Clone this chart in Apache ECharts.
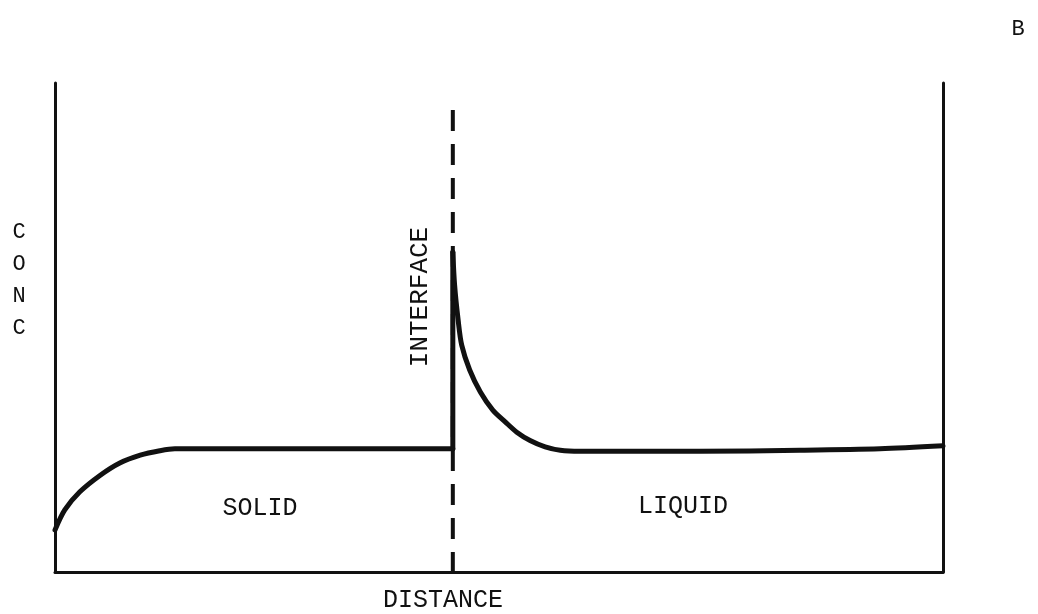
<!DOCTYPE html>
<html>
<head>
<meta charset="utf-8">
<script src="https://cdn.jsdelivr.net/npm/echarts@6/dist/echarts.min.js"></script>
<style>
html,body{margin:0;padding:0;background:#fff;}
#chart{width:1038px;height:614px;}
</style>
</head>
<body>
<div id="chart"></div>
<script>
// Concentration profile (distance 0-100, conc 0-100)
const solidCurve = [
  [0, 8.6], [1.1, 12.7], [2.8, 16.4], [5.1, 19.8], [7.3, 22.3],
  [9.6, 23.9], [11.8, 24.8], [13.5, 25.2], [20, 25.2], [44.8, 25.2]
];
const interfaceJump = [[44.8, 25.2], [44.8, 65.4]];
const liquidCurve = [
  [44.8, 65.4], [45.0, 58.7], [45.4, 51.5], [45.8, 46.4], [46.7, 41.3],
  [47.9, 36.8], [49.3, 33.1], [50.7, 30.7], [52.0, 28.6], [53.5, 26.9],
  [55.2, 25.6], [56.9, 24.9], [59.1, 24.7], [72.6, 24.7], [83.9, 24.9],
  [92.9, 25.2], [100, 25.8]
];
const interfaceLine = [[44.8, 94.5], [44.8, 0]];
const labels = {
  yTitle: ['C', 'O', 'N', 'C'],
  xTitle: 'DISTANCE',
  interface: 'INTERFACE',
  solid: 'SOLID',
  liquid: 'LIQUID',
  corner: 'B'
};

const FONT = '"Liberation Mono", "DejaVu Sans Mono", monospace';
const INK = '#111';
const chart = echarts.init(document.getElementById('chart'));

const hidden = { axisTick: { show: false }, axisLabel: { show: false }, splitLine: { show: false } };
const axisLine = { show: true, onZero: false, lineStyle: { color: INK, width: 3 } };
const curve = (data, smooth) => ({
  type: 'line', data: data, symbol: 'none', smooth: smooth,
  lineStyle: { color: INK, width: 5, cap: 'round', join: 'round' }, z: 2
});
const label = (text, x, y, size, extra) => Object.assign({
  type: 'text',
  style: { text: text, x: x, y: y, font: size + 'px ' + FONT, fill: INK, align: 'center', verticalAlign: 'middle' }
}, extra || {});

chart.setOption({
  backgroundColor: '#fff',
  animation: false,
  grid: { left: 55, right: 95, top: 83, bottom: 42 },
  xAxis: Object.assign({ type: 'value', min: 0, max: 100, axisLine: axisLine }, hidden),
  yAxis: [
    Object.assign({ type: 'value', min: 0, max: 100, position: 'left', axisLine: axisLine }, hidden),
    Object.assign({ type: 'value', min: 0, max: 100, position: 'right', axisLine: axisLine }, hidden)
  ],
  series: [
    {
      type: 'line', data: interfaceLine, symbol: 'none',
      lineStyle: { color: INK, width: 4, type: [21, 13] }, z: 1
    },
    curve(solidCurve, 0.3),
    curve(interfaceJump, false),
    curve(liquidCurve, 0.3)
  ],
  graphic: [
    label(labels.corner, 1018, 29, 22),
    ...labels.yTitle.map((c, i) => label(c, 19, 232 + i * 32, 22)),
    Object.assign(label(labels.interface, 0, 0, 26), { x: 420, y: 297, rotation: Math.PI / 2 }),
    label(labels.solid, 260, 508, 25),
    label(labels.liquid, 683, 506, 25),
    label(labels.xTitle, 443, 600, 25)
  ]
});
</script>
</body>
</html>
